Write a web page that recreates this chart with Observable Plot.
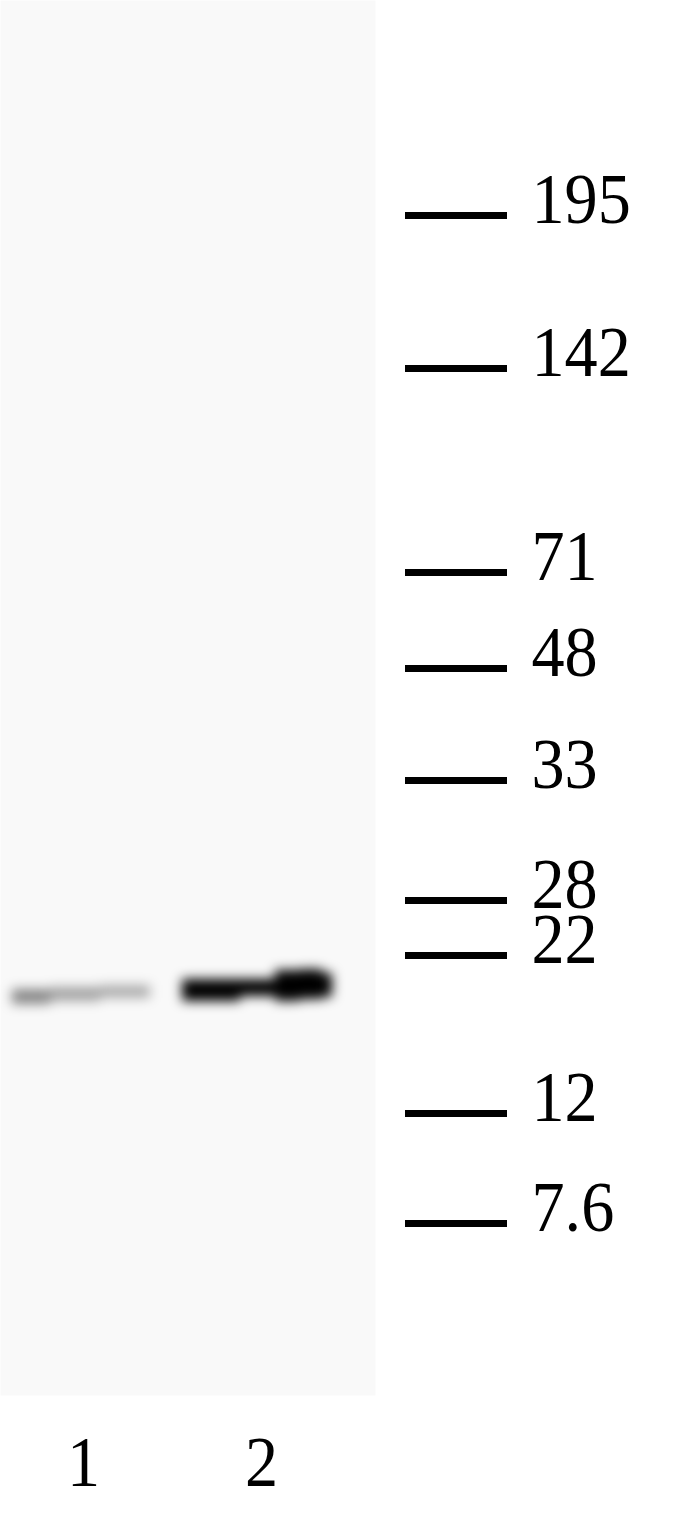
<!DOCTYPE html>
<html>
<head>
<meta charset="utf-8">
<script src="https://cdn.jsdelivr.net/npm/d3@7"></script>
<script src="https://cdn.jsdelivr.net/npm/@observablehq/plot@0.6"></script>
<style>
  html, body { margin: 0; padding: 0; background: #ffffff; }
  #chart svg { display: block; }
</style>
</head>
<body>
<div id="chart"></div>
<script>
// ---- data ----
const lanes = [1, 2];
const laneLabels = ["1", "2"];
const markerKDa = [195, 142, 71, 48, 33, 28, 22, 12, 7.6];
const markerLabels = ["195", "142", "71", "48", "33", "28", "22", "12", "7.6"];

// band segments (lane, horizontal extent within lane in lane units, apparent kDa span, signal intensity)
const bandLane      = [1, 1, 1, 2, 2, 2, 2, 2];
const bandFrom      = [-0.40, -0.185, 0.096, -0.444, -0.118, 0.079, 0.219, 0.343];
const bandTo        = [-0.185,  0.096, 0.376, -0.118,  0.079, 0.219, 0.343, 0.399];
const bandTopKDa    = [19.31, 19.46, 19.60, 20.06, 20.06, 20.77, 20.85, 20.53];
const bandBottomKDa = [18.23, 18.44, 18.66, 18.44, 18.80, 18.44, 18.58, 18.73];
const bandIntensity = [0.46, 0.35, 0.31, 1, 1, 1, 1, 1];

// ---- tables built from the arrays ----
const bands = bandLane.map((lane, i) => ({
  lane,
  from: bandFrom[i],
  to: bandTo[i],
  top: bandTopKDa[i],
  bottom: bandBottomKDa[i],
  intensity: bandIntensity[i]
}));
const markerText = new Map(markerKDa.map((d, i) => [d, markerLabels[i]]));
const laneText = new Map(lanes.map((d, i) => [d, laneLabels[i]]));

const FONT = "Liberation Serif, Times New Roman, serif";

const chart = Plot.plot({
  width: 682,
  height: 1520,
  marginLeft: 0,
  marginRight: 307,
  marginTop: 0,
  marginBottom: 125,
  style: { background: "#ffffff", color: "#000000", fontFamily: FONT },
  x: { type: "linear", domain: [1, 2], range: [83, 261] },
  y: { type: "log", domain: markerKDa, range: [215, 368, 572, 668, 780, 900, 955, 1113, 1223] },
  opacity: { domain: [0, 1], range: [0, 1] },
  marks: [
    Plot.frame({ fill: "#f9f9f9", stroke: "none" }),
    Plot.rect(bands, {
      x1: d => d.lane + d.from,
      x2: d => d.lane + d.to,
      y1: "top",
      y2: "bottom",
      fill: "#000000",
      fillOpacity: "intensity"
    }),
    // marker ladder ticks
    Plot.axisY(markerKDa, {
      anchor: "right",
      tickSize: 102,
      dx: 29,
      strokeWidth: 7,
      fill: "none",
      label: null
    }),
    // marker ladder labels
    Plot.axisY(markerKDa, {
      anchor: "right",
      tickSize: 0,
      tickPadding: 156,
      dy: -16,
      fontSize: 72,
      fontFamily: FONT,
      tickFormat: d => markerText.get(d),
      label: null
    }),
    // lane labels
    Plot.axisX(lanes, {
      anchor: "bottom",
      tickSize: 0,
      tickPadding: 67,
      lineAnchor: "middle",
      fontSize: 72,
      fontFamily: FONT,
      tickFormat: d => laneText.get(d),
      label: null
    })
  ]
});

document.getElementById("chart").appendChild(chart);

const svg = d3.select(chart);

// slightly condensed serif digits, as in the original figure
svg.selectAll("text").attr("transform", function () {
  const t = this.getAttribute("transform") || "";
  return t + " scale(0.92,1)";
});

// soften the bands like a chemiluminescent exposure
const defs = svg.insert("defs", ":first-child");
defs.append("filter")
  .attr("id", "blot-blur")
  .attr("filterUnits", "userSpaceOnUse")
  .attr("x", 0).attr("y", 0).attr("width", 682).attr("height", 1520)
  .append("feGaussianBlur")
  .attr("stdDeviation", 6);
svg.selectAll("g")
  .filter(function () {
    const kids = Array.from(this.children);
    return kids.length === bands.length && kids.every(k => k.tagName.toLowerCase() === "rect");
  })
  .attr("filter", "url(#blot-blur)");
</script>
</body>
</html>
